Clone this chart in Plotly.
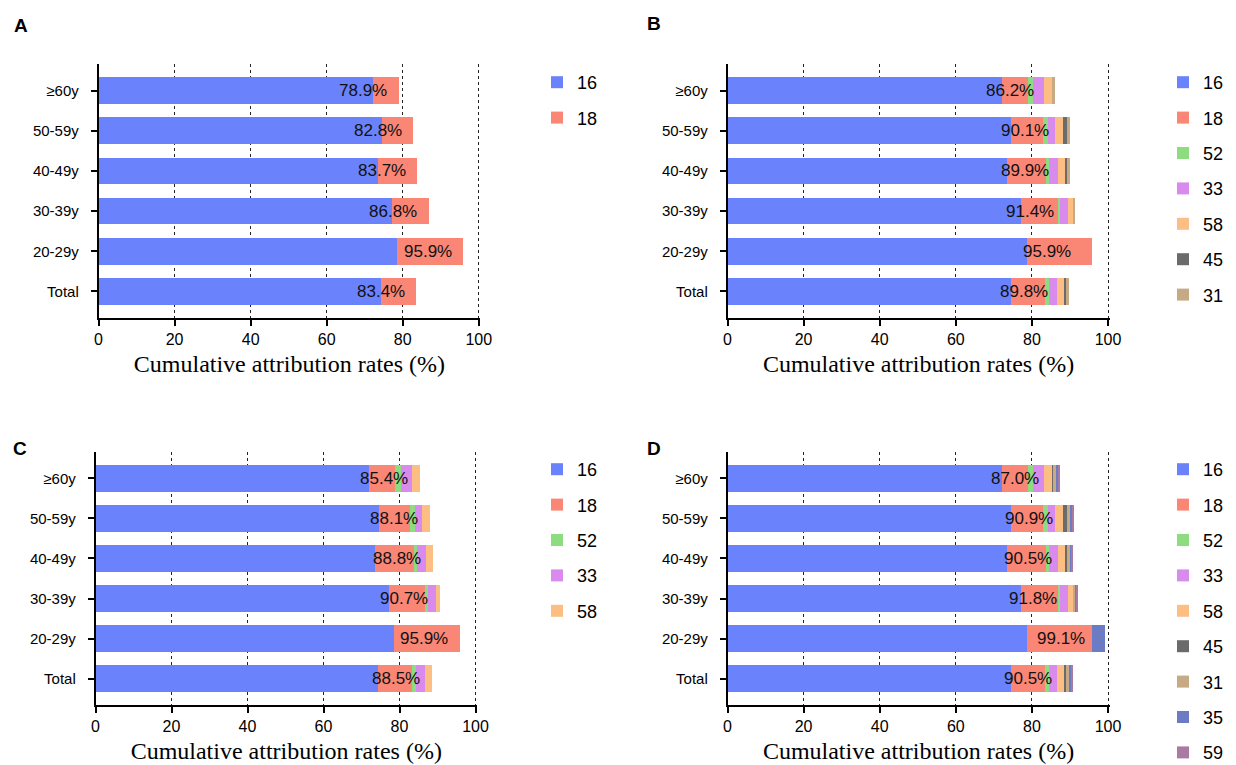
import plotly.graph_objects as go

# ---------------- data ----------------
ages = ["≥60y", "50-59y", "40-49y", "30-39y", "20-29y", "Total"]  # top to bottom

A_16 = [72.1, 74.5, 73.5, 77.2, 78.6, 74.4]
A_18 = [6.8, 8.3, 10.2, 9.6, 17.3, 9.0]

B_16 = [72.1, 74.5, 73.5, 77.2, 78.6, 74.4]
B_18 = [6.8, 8.4, 10.2, 9.6, 17.3, 9.0]
B_52 = [1.4, 1.3, 0.9, 0.7, 0.0, 1.0]
B_33 = [3.0, 1.8, 2.3, 2.1, 0.0, 2.2]
B_58 = [2.1, 2.1, 1.9, 1.2, 0.0, 1.8]
B_45 = [0.0, 1.2, 0.4, 0.0, 0.0, 0.5]
B_31 = [0.8, 0.8, 0.7, 0.6, 0.0, 0.9]

C_16 = [72.1, 74.5, 73.5, 77.2, 78.6, 74.4]
C_18 = [6.8, 8.3, 10.2, 9.6, 17.3, 9.0]
C_52 = [1.6, 1.3, 0.9, 0.7, 0.0, 1.0]
C_33 = [2.9, 1.8, 2.3, 2.2, 0.0, 2.2]
C_58 = [2.0, 2.2, 1.9, 1.0, 0.0, 1.9]

D_16 = [72.1, 74.5, 73.5, 77.2, 78.6, 74.4]
D_18 = [6.8, 8.4, 10.2, 9.6, 17.3, 9.0]
D_52 = [1.4, 1.3, 0.9, 0.7, 0.0, 1.0]
D_33 = [3.0, 1.8, 2.3, 2.1, 0.0, 2.2]
D_58 = [2.1, 2.1, 1.9, 1.2, 0.0, 1.8]
D_45 = [0.2, 1.2, 0.4, 0.0, 0.0, 0.5]
D_31 = [0.8, 0.8, 0.7, 0.6, 0.0, 0.9]
D_35 = [0.4, 0.4, 0.3, 0.2, 3.2, 0.4]
D_59 = [0.2, 0.4, 0.3, 0.2, 0.0, 0.3]

panels = {
    "A": [("16", A_16), ("18", A_18)],
    "B": [("16", B_16), ("18", B_18), ("52", B_52), ("33", B_33),
          ("58", B_58), ("45", B_45), ("31", B_31)],
    "C": [("16", C_16), ("18", C_18), ("52", C_52), ("33", C_33), ("58", C_58)],
    "D": [("16", D_16), ("18", D_18), ("52", D_52), ("33", D_33), ("58", D_58),
          ("45", D_45), ("31", D_31), ("35", D_35), ("59", D_59)],
}

# ---------------- style ----------------
colors = {
    "16": "#6a82fb", "18": "#fa8676", "52": "#8edc80", "33": "#d98aed",
    "58": "#fcbe82", "45": "#6b6b6b", "31": "#c6a985", "35": "#6b7cc4",
    "59": "#ab7aa3",
}
SANS = "Liberation Sans, Arial, sans-serif"
SERIF = "Liberation Serif, Times New Roman, serif"
W, H = 1236, 765
XMAX = 100.4

# pixel boxes of plot areas: (x at 0, x at 100, ytop, ybottom)
boxes = {
    "A": (98.5, 478.8, 64, 318),
    "B": (727.5, 1108.0, 64, 318),
    "C": (95.5, 475.5, 452, 705),
    "D": (727.5, 1108.0, 452, 705),
}
label_offset = {"A": 2.4, "B": 5.0, "C": 2.7, "D": 4.7}
legend_pos = {"A": (537, 64), "B": (1163, 64), "C": (537, 451), "D": (1163, 451)}
letter_pos = {"A": (21, 26), "B": (654, 23), "C": (20, 448), "D": (654, 448)}

fig = go.Figure()
layout = dict(
    width=W, height=H, margin=dict(l=0, r=0, t=0, b=0, autoexpand=False),
    paper_bgcolor="white", plot_bgcolor="white",
    barmode="stack", bargap=0.335, showlegend=True,
    font=dict(family=SANS, color="black"),
)
annotations = []
cat_order = list(reversed(ages))

for i, (name, series) in enumerate(panels.items()):
    sfx = "" if i == 0 else str(i + 1)
    xa, ya = "x" + sfx, "y" + sfx
    lg = "legend" + sfx
    x0, x100, yt, yb = boxes[name]
    x1 = x0 + (x100 - x0) * XMAX / 100
    for key, vals in series:
        fig.add_trace(go.Bar(
            x=vals, y=ages, orientation="h", name=key,
            marker=dict(color=colors[key], line=dict(width=0)),
            xaxis=xa, yaxis=ya, legend=lg, legendgroup=name + key,
            width=0.665,
        ))
    layout["xaxis" + sfx] = dict(
        domain=[x0 / W, x1 / W], anchor=ya, range=[0, XMAX],
        tickvals=[0, 20, 40, 60, 80, 100],
        showline=True, linecolor="black", linewidth=1.5,
        ticks="outside", ticklen=6, tickwidth=1.5, tickcolor="black",
        tickfont=dict(size=16, family=SANS),
        showgrid=True, gridcolor="#222", griddash="dot", gridwidth=1,
        zeroline=False,
        title=dict(text="Cumulative attribution rates (%)",
                   font=dict(family=SERIF, size=24), standoff=8),
    )
    layout["yaxis" + sfx] = dict(
        domain=[1 - yb / H, 1 - yt / H], anchor=xa,
        type="category", categoryorder="array", categoryarray=cat_order,
        range=[-0.66, 5.66],
        showline=True, linecolor="black", linewidth=1.5,
        ticks="outside", ticklen=6, tickwidth=1.5, tickcolor="black",
        ticklabelstandoff=9,
        tickfont=dict(size=15, family=SANS), showgrid=False, zeroline=False,
    )
    lx, ly = legend_pos[name]
    layout[lg] = dict(
        x=lx / W, y=1 - ly / H, xanchor="left", yanchor="top",
        font=dict(size=18, family=SANS), traceorder="grouped",
        tracegroupgap=9, bgcolor="rgba(0,0,0,0)", itemwidth=30,
    )
    # totals labels
    for j, age in enumerate(ages):
        tot = sum(vals[j] for _, vals in series)
        annotations.append(dict(
            x=tot - label_offset[name], y=age, xref=xa, yref=ya,
            text=f"{tot:.1f}%", showarrow=False, xanchor="right",
            yanchor="middle", font=dict(size=17, family=SANS, color="#111"),
        ))
    px, py = letter_pos[name]
    annotations.append(dict(
        x=px / W, y=1 - py / H, xref="paper", yref="paper", text=f"<b>{name}</b>",
        showarrow=False, xanchor="center", yanchor="middle",
        font=dict(size=19, family=SANS, color="black"),
    ))

layout["annotations"] = annotations
fig.update_layout(**layout)
fig.write_html(
    "out.html",
    config={"displayModeBar": False},
    post_script="document.body.style.margin='0';document.body.style.overflow='hidden';",
)
